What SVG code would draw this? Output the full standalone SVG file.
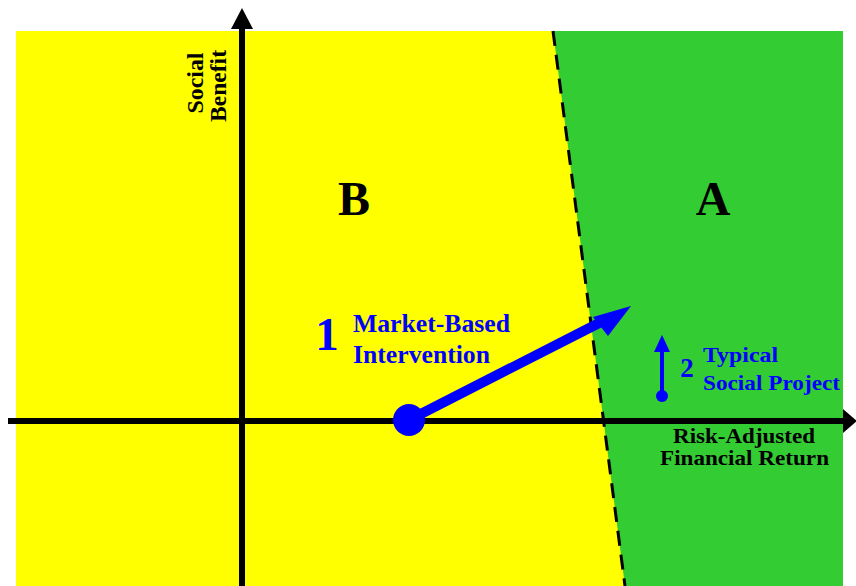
<svg xmlns="http://www.w3.org/2000/svg" width="856" height="586" viewBox="0 0 856 586">
<style>
text{font-family:"Liberation Serif","Times New Roman",serif;font-weight:bold}
.blk{fill:#000}
.blu{fill:#0000ff}
.axis{stroke:#000;stroke-width:6;fill:none}
</style>
<rect width="856" height="586" fill="#fff"/>
<g id="regionB"><rect x="16" y="31" width="827" height="555" fill="#ffff00"/></g>
<g id="regionA"><polygon points="553,31 843,31 843,586 625,586" fill="#33cc33"/></g>
<g id="connectors">
<line x1="553" y1="31" x2="625" y2="586" stroke="#000" stroke-width="3" stroke-dasharray="15,9"/>
<line x1="242" y1="586" x2="242" y2="28" class="axis"/>
<polygon points="242,8 231,29 253,29" fill="#000"/>
<line x1="8" y1="421" x2="844" y2="421" class="axis"/>
<polygon points="857,421 843,409 843,433" fill="#000"/>
<g id="arrow1">
<circle cx="409" cy="420" r="16" fill="#0000ff"/>
<line x1="409" y1="420" x2="605" y2="320" stroke="#0000ff" stroke-width="10"/>
<polygon points="631,306 593,317 608,336" fill="#0000ff"/>
</g>
<g id="arrow2">
<circle cx="662" cy="396" r="6" fill="#0000ff"/>
<line x1="662" y1="396" x2="662" y2="348" stroke="#0000ff" stroke-width="4"/>
<polygon points="662,335 654,352 670,352" fill="#0000ff"/>
</g>
</g>
<g id="labelY">
<text class="blk" font-size="24" text-anchor="middle" textLength="61" lengthAdjust="spacingAndGlyphs" transform="translate(203,83) rotate(-90)">Social</text>
<text class="blk" font-size="24" text-anchor="middle" textLength="72" lengthAdjust="spacingAndGlyphs" transform="translate(226,86) rotate(-90)">Benefit</text>
</g>
<g id="labelB"><text class="blk" font-size="48" x="354" y="215" text-anchor="middle">B</text></g>
<g id="labelA"><text class="blk" font-size="48" x="713" y="215" text-anchor="middle">A</text></g>
<g id="label1">
<text class="blu" font-size="47" x="327" y="350" text-anchor="middle">1</text>
<text class="blu" font-size="25" x="353" y="332" textLength="157" lengthAdjust="spacingAndGlyphs">Market-Based</text>
<text class="blu" font-size="25" x="353" y="363" textLength="137" lengthAdjust="spacingAndGlyphs">Intervention</text>
</g>
<g id="label2">
<text class="blu" font-size="27" x="687" y="377" text-anchor="middle">2</text>
<text class="blu" font-size="22" x="703" y="362" textLength="75" lengthAdjust="spacingAndGlyphs">Typical</text>
<text class="blu" font-size="22" x="703" y="390" textLength="137" lengthAdjust="spacingAndGlyphs">Social Project</text>
</g>
<g id="labelX">
<text class="blk" font-size="21" x="673" y="443" textLength="142" lengthAdjust="spacingAndGlyphs">Risk-Adjusted</text>
<text class="blk" font-size="21" x="660" y="465" textLength="169" lengthAdjust="spacingAndGlyphs">Financial Return</text>
</g>
</svg>
